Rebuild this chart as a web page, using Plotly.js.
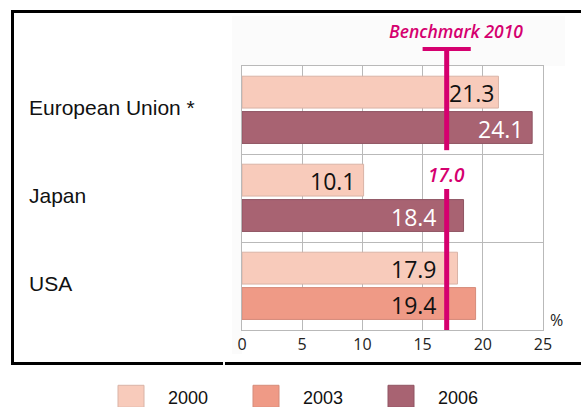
<!DOCTYPE html>
<html>
<head>
<meta charset="utf-8">
<script src="https://cdn.plot.ly/plotly-3.0.1.min.js"></script>
<style>
  html, body { margin: 0; padding: 0; background: #ffffff; }
  #wrap { position: relative; width: 581px; height: 407px; overflow: hidden; }
  .bg { position: absolute; left: 232px; top: 16px; width: 333px; height: 338px; background: #fbfbfb; }
  .ln { position: absolute; background: #000; }
  #chart { position: absolute; left: 0; top: 0; width: 581px; height: 407px; }
</style>
</head>
<body>
<div id="wrap">
  <div class="bg"></div>
  <div id="chart"></div>
  <div class="ln" style="left:11px; top:10px; width:570px; height:3px;"></div>
  <div class="ln" style="left:11px; top:10px; width:3px; height:355px;"></div>
  <div class="ln" style="left:11px; top:362px; width:212px; height:3px;"></div>
  <div class="ln" style="left:225px; top:362px; width:356px; height:3px;"></div>
</div>
<script>
// ---- data ----
const categories = ["European Union *", "Japan", "USA"];
const years = ["2000", "2003", "2006"];
const values2000 = [21.3, 10.1, 17.9];
const values2003 = [null, null, 19.4];
const values2006 = [24.1, 18.4, null];
const benchmarkValue = 17.0;
const benchmarkLabel = "Benchmark 2010";
const xTicks = [0, 5, 10, 15, 20, 25];
const unitLabel = "%";

// ---- styles ----
const fillColors = ["#f8cbbb", "#ef9a86", "#a86372"];
const edgeColors = ["#d9b3a6", "#d58b7a", "#8f5462"];
const textColors = ["#111111", "#111111", "#ffffff"];
const magenta = "#d5006f";
const gridColor = "#b9b9b9";

const W = 581, H = 407;
const M = { l: 242, r: 38, t: 65.5, b: 76.5 };
const PW = W - M.l - M.r, PH = H - M.t - M.b;
const px2x = (px) => (px - M.l) / PW;
const py2y = (py) => (H - M.b - py) / PH;

const barWidth = 0.362;
const slotOffset = [-0.384, 0.018, 0.018];
const seriesVals = [values2000, values2003, values2006];

const traces = years.map((yr, i) => ({
  type: "bar",
  orientation: "h",
  name: yr,
  y: categories,
  x: seriesVals[i],
  width: barWidth,
  offset: slotOffset[i],
  marker: { color: fillColors[i], line: { color: edgeColors[i], width: 1 } },
  hoverinfo: "skip",
  showlegend: false
}));

const shapes = [];
const annotations = [];

// value labels placed inside bar ends, kept clear of the benchmark line
const labelWidth = 3.8;  // approx text width in axis units
seriesVals.forEach((vals, i) => {
  vals.forEach((v, ci) => {
    if (v == null) return;
    let end = v - 0.5;
    const collides = (end > benchmarkValue - 0.3) && (end - labelWidth < benchmarkValue + 0.3);
    if (collides) {
      end = (v - benchmarkValue - 0.2 >= labelWidth) ? v - 0.1 : benchmarkValue - 0.6;
    }
    annotations.push({
      xref: "x", yref: "y", x: end, y: ci + slotOffset[i] + barWidth / 2,
      text: v.toFixed(1), showarrow: false, xanchor: "right", yanchor: "middle", yshift: -1,
      font: { family: "Open Sans, DejaVu Sans, sans-serif", size: 23, color: textColors[i] }
    });
  });
});

// benchmark line (with gap for its label) and T-bar
const tTop = py2y(46.5), tBar = py2y(48.5);
const gapTop = py2y(150), gapBottom = py2y(189);
shapes.push({ type: "line", xref: "x", yref: "paper", x0: benchmarkValue, x1: benchmarkValue, y0: tTop, y1: gapTop, line: { color: magenta, width: 5 } });
shapes.push({ type: "line", xref: "x", yref: "paper", x0: benchmarkValue, x1: benchmarkValue, y0: gapBottom, y1: 0, line: { color: magenta, width: 5 } });
shapes.push({ type: "line", xref: "x", yref: "paper", x0: benchmarkValue - 2.0, x1: benchmarkValue + 2.0, y0: tBar, y1: tBar, line: { color: magenta, width: 4 } });

annotations.push({ xref: "x", yref: "paper", x: benchmarkValue, y: py2y(30.5), xshift: 9.5, text: benchmarkLabel, showarrow: false, xanchor: "center", yanchor: "middle",
  font: { family: "Open Sans, DejaVu Sans, sans-serif", size: 17.5, color: magenta, style: "italic", weight: 600 } });
annotations.push({ xref: "x", yref: "paper", x: benchmarkValue, y: py2y(175), text: benchmarkValue.toFixed(1), showarrow: false, xanchor: "center", yanchor: "middle",
  font: { family: "Open Sans, DejaVu Sans, sans-serif", size: 19, color: magenta, style: "italic", weight: 600 } });

// category labels (left-aligned)
categories.forEach(c => {
  annotations.push({ xref: "paper", yref: "y", x: px2x(27), y: c, text: c, showarrow: false, xanchor: "left", yanchor: "middle", yshift: 3,
    font: { family: "Liberation Sans, Arial, sans-serif", size: 21, color: "#111111" } });
});

// unit label
annotations.push({ xref: "paper", yref: "paper", x: px2x(548), y: py2y(320.5), text: unitLabel, showarrow: false, xanchor: "left", yanchor: "middle",
  font: { family: "Open Sans, DejaVu Sans, sans-serif", size: 16, color: "#222222" } });

// custom legend
years.forEach((yr, i) => {
  const sx = 118 + i * 135;
  shapes.push({ type: "rect", xref: "paper", yref: "paper", x0: px2x(sx), x1: px2x(sx + 26), y0: py2y(386), y1: py2y(408),
    fillcolor: fillColors[i], line: { color: edgeColors[i], width: 1 } });
  annotations.push({ xref: "paper", yref: "paper", x: px2x(sx + 48), y: py2y(398.5), text: yr, showarrow: false, xanchor: "left", yanchor: "middle",
    font: { family: "Liberation Sans, Arial, sans-serif", size: 18, color: "#111111" } });
});

const layout = {
  width: W, height: H,
  margin: M,
  paper_bgcolor: "rgba(0,0,0,0)",
  plot_bgcolor: "#ffffff",
  barmode: "overlay",
  showlegend: false,
  xaxis: {
    range: [0, 25], tickvals: xTicks, ticktext: xTicks.map(String),
    showgrid: true, gridcolor: gridColor, gridwidth: 1,
    showline: true, mirror: true, linecolor: gridColor, linewidth: 1,
    zeroline: false, ticks: "",
    tickfont: { family: "Open Sans, DejaVu Sans, sans-serif", size: 16, color: "#222222" }
  },
  yaxis: {
    type: "category", range: [2.5, -0.5],
    showticklabels: false, tickson: "boundaries",
    showgrid: true, gridcolor: gridColor, gridwidth: 1,
    showline: true, mirror: true, linecolor: gridColor, linewidth: 1,
    zeroline: false, ticks: ""
  },
  shapes: shapes,
  annotations: annotations
};

Plotly.newPlot("chart", traces, layout, { staticPlot: true, displayModeBar: false });
</script>
</body>
</html>
